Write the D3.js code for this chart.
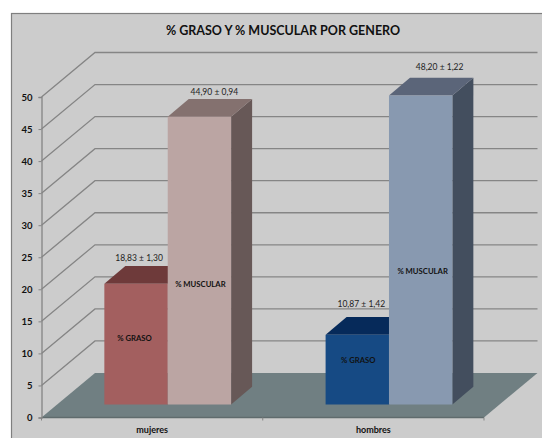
<!DOCTYPE html>
<html>
<head>
<meta charset="utf-8">
<script src="https://cdnjs.cloudflare.com/ajax/libs/d3/7.8.5/d3.min.js"></script>
<style>
  html, body { margin: 0; padding: 0; background: #fff; }
  svg { display: block; }
  text { font-family: Lato, "Open Sans", sans-serif; }
</style>
</head>
<body>
<svg id="chart"></svg>
<script>
// Data
const categories = ["mujeres", "hombres"];
const seriesNames = ["% GRASO", "% MUSCULAR"];
const grasoValues = [18.83, 10.87];
const muscularValues = [44.90, 48.20];
const grasoLabels = ["18,83 ± 1,30", "10,87 ± 1,42"];
const muscularLabels = ["44,90 ± 0,94", "48,20 ± 1,22"];
const yTicks = [0, 5, 10, 15, 20, 25, 30, 35, 40, 45, 50];

const width = 542;
const height = 438;

const svg = d3.select("#chart").attr("width", width).attr("height", height);

// Frame
svg.append("rect")
    .attr("x", 11.5).attr("y", 13.5)
    .attr("width", width).attr("height", height)
    .attr("fill", "#cccccc")
    .attr("stroke", "#7f7f7f")
    .attr("stroke-width", 1.2);

const title = "% GRASO Y % MUSCULAR POR GENERO";
svg.append("text")
    .attr("x", 283).attr("y", 34.5)
    .attr("text-anchor", "middle")
    .style("font-size", "12.5px")
    .style("font-weight", "bold")
    .attr("fill", "#111")
    .text(title);

// Scales, front plane of the 3d box
const y = d3.scaleLinear().domain([0, 50]).range([417.5, 97]);
const x = d3.scaleBand().domain(categories).range([41.5, 484]);

// 3d offsets
const backDx = 53.5, backDy = -44.5;   // front plane -> back wall
const barPlaneDx = 15.6, barPlaneDy = -13; // front plane -> bar front faces
const barDx = 21, barDy = -17.7;       // bar depth
const sidePad = 47.25;

const gridColor = "#858585";

// Gridlines on side and back wall
const grid = svg.append("g").attr("fill", "none").attr("stroke", gridColor).attr("stroke-width", 1.3);
grid.selectAll("path")
    .data(yTicks.slice(1))
    .join("path")
    .attr("d", d => d3.line()([
        [x.range()[0], y(d)],
        [x.range()[0] + backDx, y(d) + backDy],
        [x.range()[1] + backDx, y(d) + backDy]
    ]));

// Floor
const floorPts = [
    [x.range()[0], y(0)],
    [x.range()[0] + backDx, y(0) + backDy],
    [x.range()[1] + backDx, y(0) + backDy],
    [x.range()[1], y(0)]
];
svg.append("path")
    .attr("d", d3.line()(floorPts) + "Z")
    .attr("fill", "#707f82");
svg.append("line")
    .attr("x1", x.range()[0]).attr("x2", x.range()[1])
    .attr("y1", y(0)).attr("y2", y(0))
    .attr("stroke", "#5f6b6d")
    .attr("stroke-width", 1.5);

// Axes
const yAxis = svg.append("g")
    .attr("transform", `translate(${x.range()[0]},0)`)
    .call(d3.axisLeft(y).tickValues(yTicks).tickSize(3).tickPadding(6));
yAxis.select(".domain").attr("stroke", gridColor).attr("stroke-width", 1.3);
yAxis.selectAll(".tick line").attr("stroke", gridColor);
yAxis.selectAll("text")
    .style("font-size", "9.5px")
    .style("font-weight", "bold")
    .style("font-family", "Lato, sans-serif")
    .attr("fill", "#111");

const xAxis = svg.append("g")
    .attr("transform", `translate(0,${y(0)})`)
    .call(d3.axisBottom(x).tickSize(0).tickPadding(9));
xAxis.select(".domain").remove();
xAxis.selectAll("text")
    .style("font-size", "9px")
    .style("font-weight", "bold")
    .style("font-family", "Lato, sans-serif")
    .attr("fill", "#111");

// Ticks sit on the band edges
svg.append("g")
    .selectAll("line")
    .data([x.range()[0], x.range()[0] + x.bandwidth(), x.range()[1]])
    .join("line")
    .attr("x1", d => d).attr("x2", d => d)
    .attr("y1", y(0)).attr("y2", y(0) + 3)
    .attr("stroke", gridColor);

// Colours per category: front, top, side
const grasoColors = [
    { front: "#a35f5f", top: "#6e3a3a", side: "#6e3a3a" },
    { front: "#164a84", top: "#062a5a", side: "#062a5a" }
];
const muscularColors = [
    { front: "#bba5a3", top: "#84716f", side: "#675857" },
    { front: "#8899b0", top: "#5b6579", side: "#434e5e" }
];

const floorY = y(0) + barPlaneDy;
const barWidth = (x.bandwidth() - 2 * sidePad) / 2;

function drawBar(g, left, value, colors) {
    const x0 = left, x1 = left + barWidth;
    const h = y(0) - y(value);
    const top = floorY - h;
    g.append("path") // side
        .attr("d", d3.line()([[x1, top], [x1 + barDx, top + barDy], [x1 + barDx, floorY + barDy], [x1, floorY]]) + "Z")
        .attr("fill", colors.side);
    g.append("path") // top
        .attr("d", d3.line()([[x0, top], [x0 + barDx, top + barDy], [x1 + barDx, top + barDy], [x1, top]]) + "Z")
        .attr("fill", colors.top);
    g.append("rect") // front
        .attr("x", x0).attr("y", top)
        .attr("width", barWidth).attr("height", h)
        .attr("fill", colors.front);
    return top;
}

function addText(sel, tx, ty, str, bold) {
    sel.append("text")
        .attr("x", tx).attr("y", ty)
        .attr("text-anchor", "middle")
        .style("font-size", bold ? "7.7px" : "8.5px")
        .style("font-weight", bold ? "bold" : "normal")
        .attr("fill", bold ? "#111" : "#222")
        .text(str);
}

const bars = svg.append("g");
const labels = svg.append("g");

// Labels were moved by hand in the original, so each has its own nudge
const grasoNudge = [[3, -23], [4, -28]];
const muscularNudge = [[15, -22], [19, -26]];
const grasoNameNudge = [[-1.5, -3], [1, -7]];
const muscularNameNudge = [[1, 26], [2, 24]];

categories.forEach((c, i) => {
    const left = x(c) + barPlaneDx + sidePad;
    const mid = left + barWidth;

    const grasoTop = drawBar(bars, left, grasoValues[i], grasoColors[i]);
    const muscTop = drawBar(bars, mid, muscularValues[i], muscularColors[i]);

    addText(labels, left + barWidth / 2 + grasoNudge[i][0], grasoTop + grasoNudge[i][1], grasoLabels[i], false);
    addText(labels, mid + barWidth / 2 + muscularNudge[i][0], muscTop + muscularNudge[i][1], muscularLabels[i], false);

    addText(labels, left + barWidth / 2 + grasoNameNudge[i][0], (grasoTop + floorY) / 2 + grasoNameNudge[i][1], seriesNames[0], true);
    addText(labels, mid + barWidth / 2 + muscularNameNudge[i][0], (muscTop + floorY) / 2 + muscularNameNudge[i][1], seriesNames[1], true);
});
</script>
</body>
</html>
